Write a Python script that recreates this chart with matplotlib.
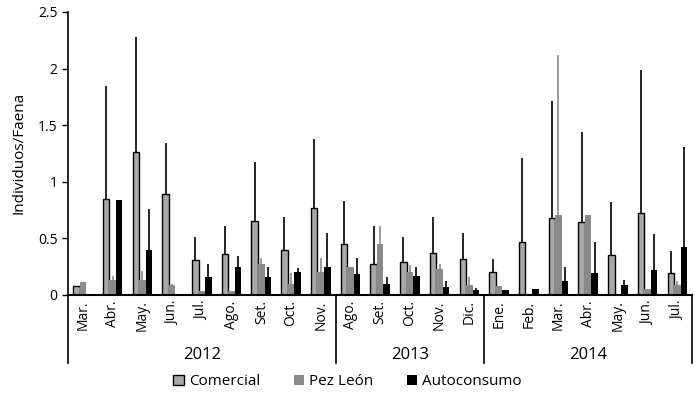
import numpy as np
import matplotlib
matplotlib.use("Agg")
import matplotlib.pyplot as plt
import matplotlib.transforms as mtransforms
from matplotlib.patches import Patch

plt.rcParams['font.family'] = ['Open Sans', 'DejaVu Sans']

# meses por año
months = ['Mar.', 'Abr.', 'May.', 'Jun.', 'Jul.', 'Ago.', 'Set.', 'Oct.', 'Nov.',
          'Ago.', 'Set.', 'Oct.', 'Nov.', 'Dic.',
          'Ene.', 'Feb.', 'Mar.', 'Abr.', 'May.', 'Jun.', 'Jul.']
years = ['2012', '2013', '2014']
year_counts = [9, 5, 7]

comercial = [0.08, 0.85, 1.26, 0.89, 0.31, 0.36, 0.65, 0.40, 0.77,
             0.45, 0.27, 0.29, 0.37, 0.32,
             0.20, 0.47, 0.68, 0.64, 0.35, 0.72, 0.19]
comercial_err = [0.00, 1.00, 1.02, 0.45, 0.20, 0.25, 0.52, 0.29, 0.61,
                 0.38, 0.34, 0.22, 0.32, 0.23,
                 0.12, 0.74, 1.03, 0.80, 0.47, 1.27, 0.20]

pez_leon = [0.11, 0.13, 0.13, 0.09, 0.03, 0.03, 0.27, 0.10, 0.20,
            0.25, 0.45, 0.20, 0.23, 0.09,
            0.08, 0.00, 0.71, 0.71, 0.00, 0.05, 0.09]
pez_leon_err = [0.00, 0.04, 0.08, 0.01, 0.00, 0.00, 0.06, 0.09, 0.13,
                0.00, 0.16, 0.06, 0.04, 0.07,
                0.00, 0.00, 1.41, 0.00, 0.00, 0.00, 0.03]

autoconsumo = [0.00, 0.84, 0.40, 0.00, 0.16, 0.25, 0.16, 0.20, 0.25,
               0.18, 0.10, 0.17, 0.07, 0.04,
               0.04, 0.05, 0.12, 0.19, 0.09, 0.22, 0.42]
autoconsumo_err = [0.00, 0.00, 0.36, 0.00, 0.11, 0.09, 0.09, 0.04, 0.30,
                   0.15, 0.06, 0.08, 0.05, 0.02,
                   0.00, 0.00, 0.13, 0.28, 0.04, 0.32, 0.89]

c_com = '#a8a8a8'
c_pez = '#8a8a8a'
c_auto = '#000000'

fig = plt.figure(figsize=(6.95, 3.99), dpi=100)
ax = fig.add_axes([0.098, 0.261, 0.898, 0.709])

x = np.arange(len(months))
w = 0.22

series = [
    (comercial, comercial_err, -w, c_com, 'black', 'black'),
    (pez_leon, pez_leon_err, 0, c_pez, 'none', c_pez),
    (autoconsumo, autoconsumo_err, w, c_auto, 'none', 'black'),
]
for vals, err, off, fc, ec, errc in series:
    vals = np.array(vals)
    err = np.array(err)
    ax.bar(x + off, vals, w, color=fc, edgecolor=ec, linewidth=1.0, zorder=2)
    m = err > 0
    ax.errorbar(x[m] + off, vals[m], yerr=[np.zeros(m.sum()), err[m]],
                fmt='none', ecolor=errc, elinewidth=1.2, capsize=0, zorder=3)

ax.set_xlim(-0.5, len(months) - 0.5)
ax.set_ylim(0, 2.5)
ax.set_yticks([0, 0.5, 1, 1.5, 2, 2.5])
ax.set_yticklabels(['0', '0.5', '1', '1.5', '2', '2.5'], fontsize=10)
ax.set_ylabel('Individuos/Faena', fontsize=11, labelpad=8)
ax.set_xticks(x)
ax.set_xticklabels(months, rotation=90, fontsize=10)
ax.tick_params(axis='x', length=0, pad=4)
ax.tick_params(axis='y', length=4, width=1, direction='out')

for s in ['top', 'right']:
    ax.spines[s].set_visible(False)
ax.spines['left'].set_linewidth(1.2)
ax.spines['bottom'].set_linewidth(1.5)

# separadores de años y etiquetas
trans = mtransforms.blended_transform_factory(ax.transData, ax.transAxes)
edges = np.concatenate([[0], np.cumsum(year_counts)]) - 0.5
for e in edges:
    ax.plot([e, e], [0, -0.24], transform=trans, color='black', lw=1.2, clip_on=False)
for i, yr in enumerate(years):
    ax.text((edges[i] + edges[i + 1]) / 2, -0.212, yr, transform=trans,
            ha='center', va='center', fontsize=12)

handles = [Patch(facecolor=c_com, edgecolor='black', label='Comercial'),
           Patch(facecolor=c_pez, label='Pez León'),
           Patch(facecolor=c_auto, label='Autoconsumo')]
fig.legend(handles=handles, loc='center', bbox_to_anchor=(0.5, 0.043), ncol=3,
           frameon=False, fontsize=11, handlelength=0.7, handleheight=0.7,
           handletextpad=0.3, columnspacing=2.2)

fig.savefig('out.png', dpi=100)
